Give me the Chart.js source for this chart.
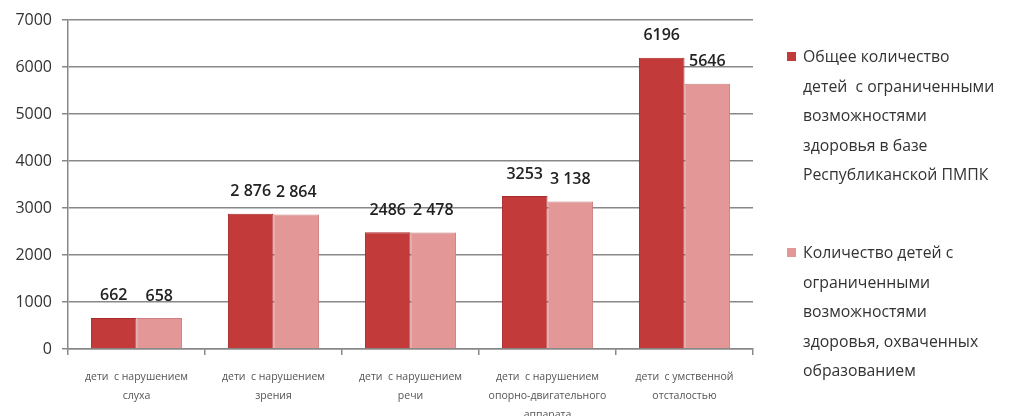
<!DOCTYPE html>
<html>
<head>
<meta charset="utf-8">
<script src="https://cdn.jsdelivr.net/npm/chart.js@4.4.1/dist/chart.umd.min.js"></script>
<style>
  html, body { margin: 0; padding: 0; background: #fff; }
  #wrap { position: relative; width: 1010px; height: 416px; }
  #c { position: absolute; left: 0; top: 0; }
  .leg { position: absolute; left: 787px; font-family: "Open Sans", "Noto Sans", sans-serif; font-size: 15.8px; color: #333; line-height: 29.5px; }
  .leg .sw { position: absolute; left: 0; top: 10px; width: 9px; height: 9px; }
  .leg .tx { margin-left: 16px; white-space: nowrap; }
</style>
</head>
<body>
<div id="wrap">
  <canvas id="c" width="1010" height="416"></canvas>
  <div class="leg" id="leg0" style="top:42px"><div class="sw"></div><div class="tx"></div></div>
  <div class="leg" id="leg1" style="top:238px"><div class="sw"></div><div class="tx"></div></div>
</div>
<script>
const categories = [
  ["дети  с нарушением", "слуха"],
  ["дети  с нарушением", "зрения"],
  ["дети  с нарушением", "речи"],
  ["дети  с нарушением", "опорно-двигательного", "аппарата"],
  ["дети  с умственной", "отсталостью"]
];
const seriesNames = [
  ["Общее количество", "детей  с ограниченными", "возможностями", "здоровья в базе", "Республиканской ПМПК"],
  ["Количество детей с", "ограниченными", "возможностями", "здоровья, охваченных", "образованием"]
];
const totalValues = [662, 2876, 2486, 3253, 6196];
const coveredValues = [658, 2864, 2478, 3138, 5646];
const totalLabels = ["662", "2 876", "2486", "3253", "6196"];
const coveredLabels = ["658", "2 864", "2 478", "3 138", "5646"];
const yTicks = [0, 1000, 2000, 3000, 4000, 5000, 6000, 7000];

const colors = ["#c23a3a", "#e39797"];
const borders = ["#a82a2a", "#cc8080"];
const valueLabels = [totalLabels, coveredLabels];

seriesNames.forEach((lines, i) => {
  const el = document.getElementById('leg' + i);
  el.querySelector('.sw').style.background = colors[i];
  el.querySelector('.tx').innerHTML = lines.map(s => s.replace(/ /g, '&nbsp;')).join('<br>');
});

const labelPlugin = {
  id: 'valueLabels',
  afterDatasetsDraw(chart) {
    const ctx = chart.ctx;
    ctx.save();
    ctx.font = '600 16px "Open Sans", "Noto Sans", sans-serif';
    ctx.fillStyle = '#222';
    ctx.textAlign = 'center';
    ctx.textBaseline = 'middle';
    chart.data.datasets.forEach((ds, di) => {
      const meta = chart.getDatasetMeta(di);
      meta.data.forEach((bar, i) => {
        ctx.fillText(valueLabels[di][i], bar.x, bar.y - 22);
      });
    });
    ctx.restore();
  }
};

new Chart(document.getElementById('c'), {
  type: 'bar',
  data: {
    labels: categories,
    datasets: [
      { label: seriesNames[0].join(' '), data: totalValues, backgroundColor: colors[0], borderColor: borders[0], borderWidth: 1 },
      { label: seriesNames[1].join(' '), data: coveredValues, backgroundColor: colors[1], borderColor: borders[1], borderWidth: 1 }
    ]
  },
  options: {
    responsive: false,
    animation: false,
    layout: { padding: { top: 20, right: 257, left: 0, bottom: 0 } },
    datasets: { bar: { categoryPercentage: 0.665, barPercentage: 1.0 } },
    plugins: { legend: { display: false }, tooltip: { enabled: false } },
    scales: {
      x: {
        grid: { drawOnChartArea: false, drawTicks: true, tickLength: 6, color: '#888', lineWidth: 1.5 },
        border: { color: '#888', width: 1.5 },
        ticks: {
          color: '#555', padding: 13, maxRotation: 0, autoSkip: false,
          font: { family: '"Open Sans", "Noto Sans", sans-serif', size: 10.5, lineHeight: 1.8 }
        },
        afterFit(scale) { scale.height = 67; }
      },
      y: {
        min: 0, max: 7000,
        afterBuildTicks(scale) { scale.ticks = yTicks.map(v => ({ value: v })); },
        grid: { color: '#888', lineWidth: 1.5, drawTicks: true, tickLength: 6 },
        border: { color: '#888', width: 1.5 },
        ticks: {
          color: '#333', padding: 10,
          callback: (v) => String(v),
          font: { family: '"Open Sans", "Noto Sans", sans-serif', size: 16 }
        },
        afterFit(scale) { scale.width = 68; }
      }
    }
  },
  plugins: [labelPlugin]
});
</script>
</body>
</html>
